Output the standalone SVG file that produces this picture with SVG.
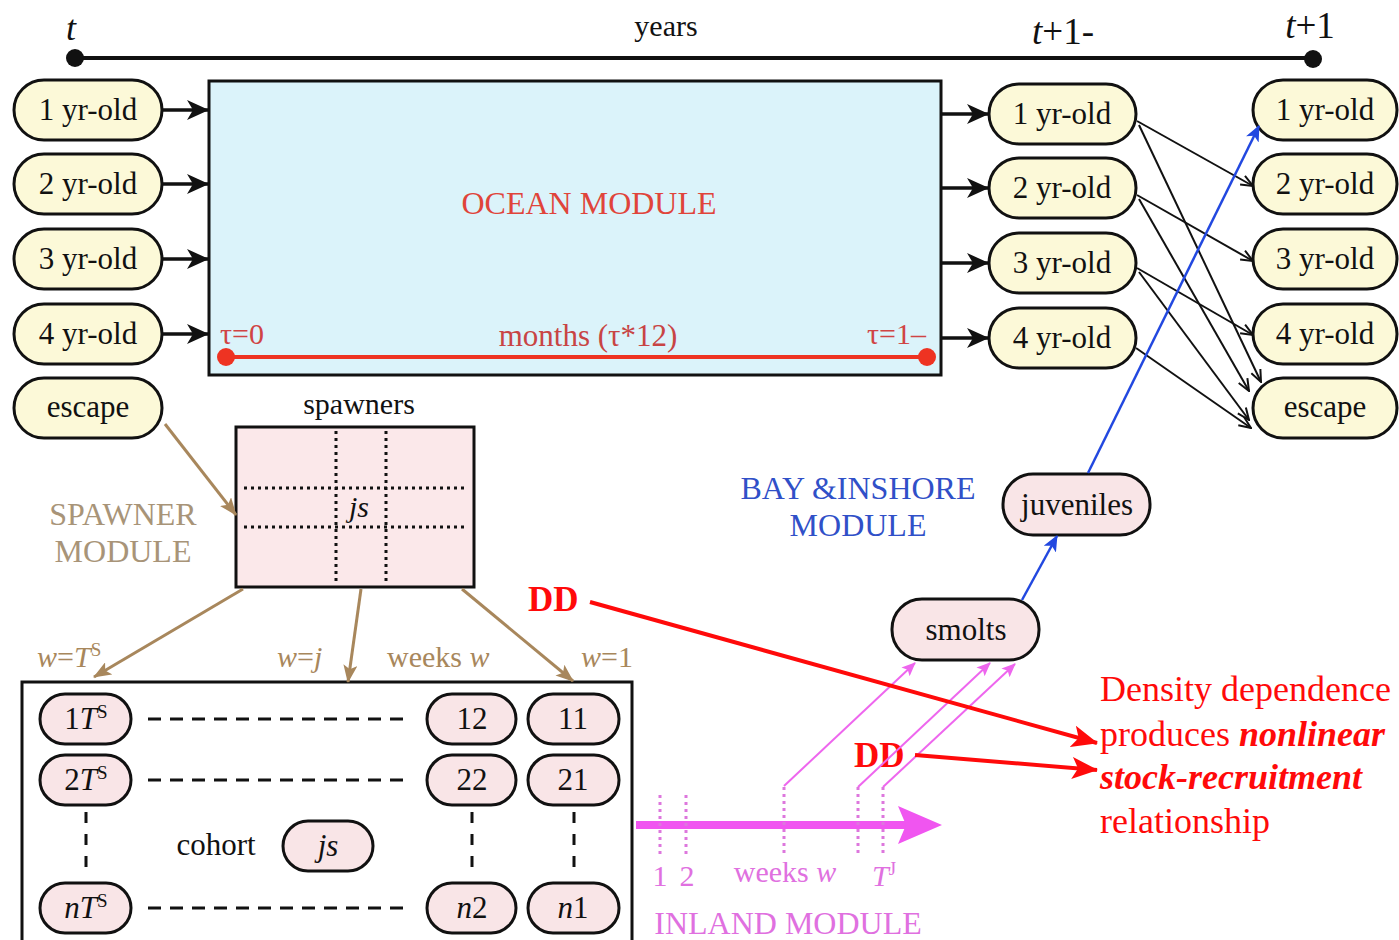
<svg xmlns="http://www.w3.org/2000/svg" width="1399" height="940" viewBox="0 0 1399 940">
<style>
text{font-family:"Liberation Serif","Times New Roman",serif;}
.lbl{font-size:31px;fill:#111;text-anchor:middle;}
.yn rect{fill:#fcf9d8;stroke:#111;stroke-width:3;}
.pk rect{fill:#f9e5e7;stroke:#111;stroke-width:3;}
.it{font-style:italic;}
.sup{font-size:19px;font-style:normal;}
.thick{stroke:#111;stroke-width:3.5;fill:none;}
.thin{stroke:#111;stroke-width:2;fill:none;}
.brown{stroke:#a8875c;stroke-width:3;fill:none;}
.blue{stroke:#2248e0;stroke-width:2.5;fill:none;}
.mag{stroke:#ee66ee;stroke-width:2;fill:none;}
.magdot{stroke:#dd77dd;stroke-width:3;stroke-dasharray:3 4;fill:none;}
.red{stroke:#ff0a0a;stroke-width:4;fill:none;}
.dash{stroke:#111;stroke-width:3;stroke-dasharray:13 9;fill:none;}
.vdash{stroke:#111;stroke-width:3;stroke-dasharray:11 11;fill:none;}
.dot{stroke:#111;stroke-width:3;stroke-dasharray:3 4;fill:none;}
.bt{font-size:30px;fill:#a8875c;}
.sm{font-size:32px;fill:#a89478;text-anchor:middle;}
.rt{font-size:36px;fill:#ff0a0a;}
</style>
<defs>
<marker id="mBlk" markerUnits="userSpaceOnUse" markerWidth="22" markerHeight="20" refX="21" refY="10" orient="auto"><path d="M0,0 L22,10 L0,20 L6,10 z" fill="#111"/></marker>
<marker id="mThin" markerUnits="userSpaceOnUse" markerWidth="14" markerHeight="12" refX="13" refY="6" orient="auto"><path d="M1,1 L13,6 L1,11" fill="none" stroke="#111" stroke-width="2"/></marker>
<marker id="mBrown" markerUnits="userSpaceOnUse" markerWidth="18" markerHeight="14" refX="17" refY="7" orient="auto"><path d="M0,0 L18,7 L0,14 L4,7 z" fill="#a8875c"/></marker>
<marker id="mBlue" markerUnits="userSpaceOnUse" markerWidth="16" markerHeight="14" refX="15" refY="7" orient="auto"><path d="M0,0 L16,7 L0,14 L4,7 z" fill="#2248e0"/></marker>
<marker id="mMag" markerUnits="userSpaceOnUse" markerWidth="14" markerHeight="12" refX="13" refY="6" orient="auto"><path d="M0,0 L14,6 L0,12 L3,6 z" fill="#ee66ee"/></marker>
<marker id="mRed" markerUnits="userSpaceOnUse" markerWidth="26" markerHeight="22" refX="25" refY="11" orient="auto"><path d="M0,0 L26,11 L0,22 L6,11 z" fill="#ff0a0a"/></marker>
</defs>
<rect width="1399" height="940" fill="#ffffff"/>

<g id="timeline">
<line x1="75" y1="58" x2="1313" y2="58" stroke="#111" stroke-width="4"/>
<circle cx="75" cy="58" r="9" fill="#111"/>
<circle cx="1313" cy="59" r="9" fill="#111"/>
<text x="71" y="40" class="it" font-size="36" text-anchor="middle" fill="#111">t</text>
<text x="666" y="36" font-size="30" text-anchor="middle" fill="#111">years</text>
<text x="1063" y="44" font-size="37" text-anchor="middle" fill="#111"><tspan class="it">t</tspan>+1-</text>
<text x="1310" y="38" font-size="37" text-anchor="middle" fill="#111"><tspan class="it">t</tspan>+1</text>
</g>

<g id="ocean">
<rect x="209" y="81" width="732" height="294" fill="#dbf3fa" stroke="#111" stroke-width="3"/>
<text x="589" y="214" font-size="32" text-anchor="middle" fill="#e0443a">OCEAN MODULE</text>
<line x1="226" y1="357" x2="927" y2="357" stroke="#ee3322" stroke-width="4"/>
<circle cx="226" cy="357" r="9" fill="#ee3322"/>
<circle cx="927" cy="357" r="9" fill="#ee3322"/>
<text x="220" y="344" font-size="30" fill="#d04444">τ=0</text>
<text x="588" y="346" font-size="31" text-anchor="middle" fill="#c84444">months (τ*12)</text>
<text x="926" y="344" font-size="30" text-anchor="end" fill="#d04444">τ=1–</text>
</g>

<g id="L1" class="yn"><rect x="14" y="80" width="148" height="60" rx="30"/><text class="lbl" x="88" y="120">1 yr-old</text></g>
<g id="L2" class="yn"><rect x="14" y="154" width="148" height="60" rx="30"/><text class="lbl" x="88" y="194">2 yr-old</text></g>
<g id="L3" class="yn"><rect x="14" y="229" width="148" height="60" rx="30"/><text class="lbl" x="88" y="269">3 yr-old</text></g>
<g id="L4" class="yn"><rect x="14" y="304" width="148" height="60" rx="30"/><text class="lbl" x="88" y="344">4 yr-old</text></g>
<g id="Lesc" class="yn"><rect x="14" y="378" width="148" height="60" rx="30"/><text class="lbl" x="88" y="417">escape</text></g>

<g id="M1" class="yn"><rect x="989" y="84" width="147" height="60" rx="30"/><text class="lbl" x="1062" y="124">1 yr-old</text></g>
<g id="M2" class="yn"><rect x="989" y="158" width="147" height="60" rx="30"/><text class="lbl" x="1062" y="198">2 yr-old</text></g>
<g id="M3" class="yn"><rect x="989" y="233" width="147" height="60" rx="30"/><text class="lbl" x="1062" y="273">3 yr-old</text></g>
<g id="M4" class="yn"><rect x="989" y="308" width="147" height="60" rx="30"/><text class="lbl" x="1062" y="348">4 yr-old</text></g>

<g id="R1" class="yn"><rect x="1253" y="80" width="144" height="60" rx="30"/><text class="lbl" x="1325" y="120">1 yr-old</text></g>
<g id="R2" class="yn"><rect x="1253" y="154" width="144" height="60" rx="30"/><text class="lbl" x="1325" y="194">2 yr-old</text></g>
<g id="R3" class="yn"><rect x="1253" y="229" width="144" height="60" rx="30"/><text class="lbl" x="1325" y="269">3 yr-old</text></g>
<g id="R4" class="yn"><rect x="1253" y="304" width="144" height="60" rx="30"/><text class="lbl" x="1325" y="344">4 yr-old</text></g>
<g id="Resc" class="yn"><rect x="1253" y="378" width="144" height="60" rx="30"/><text class="lbl" x="1325" y="417">escape</text></g>

<g id="bay">
<text x="858" y="499" font-size="32" text-anchor="middle" fill="#3050c8">BAY &amp;INSHORE</text>
<text x="858" y="536" font-size="32" text-anchor="middle" fill="#3050c8">MODULE</text>
</g>
<g id="juveniles" class="pk"><rect x="1003" y="474" width="147" height="61" rx="30"/><text class="lbl" x="1077" y="515">juveniles</text></g>
<g id="smolts" class="pk"><rect x="892" y="599" width="147" height="61" rx="30"/><text class="lbl" x="966" y="640">smolts</text></g>

<g id="spawner">
<text x="123" y="525" class="sm">SPAWNER</text>
<text x="123" y="562" class="sm">MODULE</text>
<text x="359" y="414" font-size="30" text-anchor="middle" fill="#111">spawners</text>
<rect x="236" y="427" width="238" height="160" fill="#fbe8ea" stroke="#111" stroke-width="3"/>
<line class="dot" x1="336" y1="431" x2="336" y2="584"/>
<line class="dot" x1="386" y1="431" x2="386" y2="584"/>
<line class="dot" x1="244" y1="488" x2="464" y2="488"/>
<line class="dot" x1="244" y1="527" x2="464" y2="527"/>
<text x="359" y="517" class="it" font-size="30" text-anchor="middle" fill="#111">js</text>
</g>

<g id="weeklabels">
<text x="37" y="667" class="bt"><tspan class="it">w</tspan>=<tspan class="it">T</tspan><tspan class="sup" dy="-11">S</tspan></text>
<text x="277" y="667" class="bt"><tspan class="it">w</tspan>=<tspan class="it">j</tspan></text>
<text x="387" y="667" class="bt">weeks <tspan class="it">w</tspan></text>
<text x="581" y="667" class="bt"><tspan class="it">w</tspan>=1</text>
</g>

<g id="cohortbox">
<rect x="22" y="682" width="610" height="275" fill="#ffffff" stroke="#111" stroke-width="3"/>
<text x="216" y="855" font-size="31" text-anchor="middle" fill="#111">cohort</text>
<line class="dash" x1="148" y1="719" x2="410" y2="719"/>
<line class="dash" x1="148" y1="780" x2="410" y2="780"/>
<line class="dash" x1="148" y1="908" x2="410" y2="908"/>
<line class="vdash" x1="86" y1="812" x2="86" y2="872"/>
<line class="vdash" x1="472" y1="812" x2="472" y2="872"/>
<line class="vdash" x1="574" y1="812" x2="574" y2="872"/>
</g>
<g id="c1TS" class="pk"><rect x="40" y="694" width="91" height="50" rx="25"/><text class="lbl" x="86" y="729">1<tspan class="it">T</tspan><tspan class="sup" dy="-11">S</tspan></text></g>
<g id="c12" class="pk"><rect x="427" y="694" width="89" height="50" rx="25"/><text class="lbl" x="472" y="729">12</text></g>
<g id="c11" class="pk"><rect x="528" y="694" width="91" height="50" rx="25"/><text class="lbl" x="573" y="729">11</text></g>
<g id="c2TS" class="pk"><rect x="40" y="755" width="91" height="50" rx="25"/><text class="lbl" x="86" y="790">2<tspan class="it">T</tspan><tspan class="sup" dy="-11">S</tspan></text></g>
<g id="c22" class="pk"><rect x="427" y="755" width="89" height="50" rx="25"/><text class="lbl" x="472" y="790">22</text></g>
<g id="c21" class="pk"><rect x="528" y="755" width="91" height="50" rx="25"/><text class="lbl" x="573" y="790">21</text></g>
<g id="cjs" class="pk"><rect x="283" y="821" width="90" height="50" rx="25"/><text class="lbl it" x="328" y="856">js</text></g>
<g id="cnTS" class="pk"><rect x="40" y="883" width="91" height="50" rx="25"/><text class="lbl" x="86" y="918"><tspan class="it">nT</tspan><tspan class="sup" dy="-11">S</tspan></text></g>
<g id="cn2" class="pk"><rect x="427" y="883" width="89" height="50" rx="25"/><text class="lbl" x="472" y="918"><tspan class="it">n</tspan>2</text></g>
<g id="cn1" class="pk"><rect x="528" y="883" width="91" height="50" rx="25"/><text class="lbl" x="573" y="918"><tspan class="it">n</tspan>1</text></g>

<g id="inland">
<line x1="636" y1="825" x2="906" y2="825" stroke="#f055f0" stroke-width="8"/>
<polygon points="898,806 942,825 898,844 906,825" fill="#f055f0"/>
<line class="magdot" x1="660" y1="795" x2="660" y2="857"/>
<line class="magdot" x1="686" y1="795" x2="686" y2="857"/>
<line class="magdot" x1="784" y1="787" x2="784" y2="857"/>
<line class="magdot" x1="858" y1="787" x2="858" y2="855"/>
<line class="magdot" x1="883" y1="787" x2="883" y2="855"/>
<text x="660" y="886" font-size="30" text-anchor="middle" fill="#e070e0">1</text>
<text x="687" y="886" font-size="30" text-anchor="middle" fill="#e070e0">2</text>
<text x="785" y="882" font-size="30" text-anchor="middle" fill="#e070e0">weeks <tspan class="it">w</tspan></text>
<text x="872" y="886" font-size="30" fill="#e070e0"><tspan class="it">T</tspan><tspan class="sup it" dy="-11">J</tspan></text>
<text x="788" y="934" font-size="32" text-anchor="middle" fill="#e070e0">INLAND MODULE</text>
</g>

<g id="dd">
<text x="528" y="611" font-size="35" font-weight="bold" fill="#ff0a0a">DD</text>
<text x="854" y="767" font-size="35" font-weight="bold" fill="#ff0a0a">DD</text>
<text x="1100" y="701" class="rt">Density dependence</text>
<text x="1100" y="746" class="rt">produces <tspan font-weight="bold" font-style="italic">nonlinear</tspan></text>
<text x="1100" y="789" class="rt" font-weight="bold" font-style="italic">stock-recruitment</text>
<text x="1100" y="833" class="rt">relationship</text>
</g>

<g id="connectors">
<line class="thick" x1="162" y1="110" x2="208" y2="110" marker-end="url(#mBlk)"/>
<line class="thick" x1="162" y1="184" x2="208" y2="184" marker-end="url(#mBlk)"/>
<line class="thick" x1="162" y1="259" x2="208" y2="259" marker-end="url(#mBlk)"/>
<line class="thick" x1="162" y1="334" x2="208" y2="334" marker-end="url(#mBlk)"/>
<line class="thick" x1="941" y1="114" x2="988" y2="114" marker-end="url(#mBlk)"/>
<line class="thick" x1="941" y1="188" x2="988" y2="188" marker-end="url(#mBlk)"/>
<line class="thick" x1="941" y1="263" x2="988" y2="263" marker-end="url(#mBlk)"/>
<line class="thick" x1="941" y1="338" x2="988" y2="338" marker-end="url(#mBlk)"/>

<line class="thin" x1="1137" y1="121" x2="1253" y2="186" marker-end="url(#mThin)"/>
<line class="thin" x1="1139" y1="125" x2="1261" y2="382" marker-end="url(#mThin)"/>
<line class="thin" x1="1137" y1="195" x2="1253" y2="261" marker-end="url(#mThin)"/>
<line class="thin" x1="1139" y1="199" x2="1249" y2="391" marker-end="url(#mThin)"/>
<line class="thin" x1="1137" y1="268" x2="1253" y2="335" marker-end="url(#mThin)"/>
<line class="thin" x1="1139" y1="272" x2="1249" y2="420" marker-end="url(#mThin)"/>
<line class="thin" x1="1136" y1="348" x2="1251" y2="428" marker-end="url(#mThin)"/>

<line class="blue" x1="1088" y1="473" x2="1259" y2="126" marker-end="url(#mBlue)"/>
<line class="blue" x1="1022" y1="600" x2="1057" y2="536" marker-end="url(#mBlue)"/>

<line class="brown" x1="165" y1="424" x2="236" y2="515" marker-end="url(#mBrown)"/>
<line class="brown" x1="243" y1="589" x2="94" y2="677" marker-end="url(#mBrown)"/>
<line class="brown" x1="361" y1="589" x2="348" y2="682" marker-end="url(#mBrown)"/>
<line class="brown" x1="462" y1="589" x2="573" y2="681" marker-end="url(#mBrown)"/>

<line class="mag" x1="784" y1="786" x2="915" y2="663" marker-end="url(#mMag)"/>
<line class="mag" x1="858" y1="787" x2="990" y2="663" marker-end="url(#mMag)"/>
<line class="mag" x1="883" y1="787" x2="1015" y2="664" marker-end="url(#mMag)"/>

<line class="red" x1="590" y1="602" x2="1097" y2="743" marker-end="url(#mRed)"/>
<line class="red" x1="915" y1="755" x2="1097" y2="770" marker-end="url(#mRed)"/>
</g>
</svg>
